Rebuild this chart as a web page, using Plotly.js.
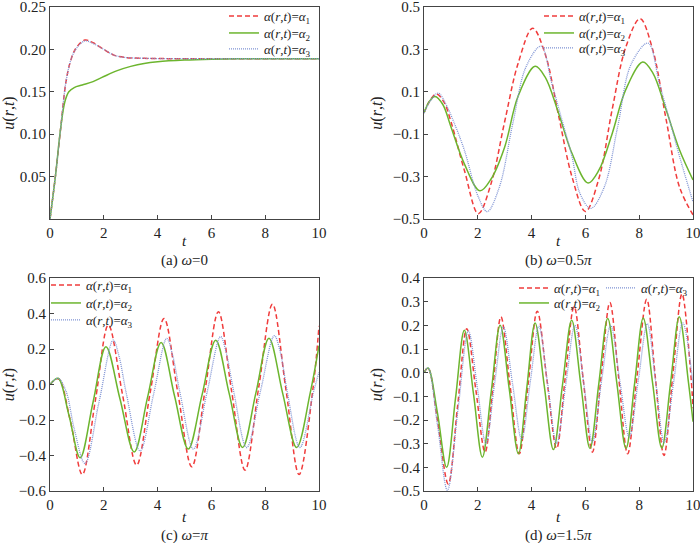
<!DOCTYPE html>
<html>
<head>
<meta charset="utf-8">
<script src="https://cdn.plot.ly/plotly-3.0.1.min.js"></script>
<style>body{margin:0;background:#fff}#myDiv{width:700px;height:543px}</style>
</head>
<body>
<div id="myDiv"></div>
<script>
// (a) omega = 0
var tA1 = [0, 0.2, 0.4, 0.6, 0.8, 1.0, 1.3, 1.6, 2.0, 2.4, 2.8, 3.5, 5, 7, 10];
var uA1 = [0, 0.05, 0.108, 0.163, 0.19, 0.203, 0.211, 0.208, 0.2, 0.193, 0.1905, 0.1895, 0.189, 0.189, 0.189];
var tA2 = [0, 0.2, 0.4, 0.55, 0.7, 0.9, 1.2, 1.6, 2.0, 2.5, 3.0, 3.5, 4.0, 5, 6, 7, 10];
var uA2 = [0, 0.05, 0.108, 0.138, 0.15, 0.155, 0.158, 0.162, 0.168, 0.175, 0.18, 0.1835, 0.1855, 0.1875, 0.1885, 0.189, 0.189];
var tA3 = [0, 0.2, 0.4, 0.6, 0.8, 1.0, 1.3, 1.6, 2.0, 2.4, 2.8, 3.5, 5, 7, 10];
var uA3 = [0, 0.05, 0.108, 0.163, 0.19, 0.202, 0.21, 0.207, 0.2, 0.193, 0.1905, 0.1895, 0.189, 0.189, 0.189];

// (b) omega = 0.5 pi
var tB1 = [0, 0.25, 0.47, 0.75, 1.0, 1.5, 2.02, 2.5, 3.0, 3.5, 4.04, 4.5, 5.0, 5.5, 6.0, 6.5, 7.0, 7.5, 8.03, 8.5, 9.0, 9.5, 10];
var uB1 = [0, 0.065, 0.09, 0.05, -0.04, -0.27, -0.475, -0.33, -0.04, 0.235, 0.40, 0.28, -0.01, -0.30, -0.465, -0.31, 0.02, 0.31, 0.445, 0.30, -0.03, -0.35, -0.48];
var tB2 = [0, 0.2, 0.41, 0.7, 1.0, 1.5, 2.08, 2.5, 3.0, 3.5, 4.13, 4.5, 5.0, 5.5, 6.1, 6.5, 7.0, 7.5, 8.13, 8.5, 9.0, 9.5, 10];
var uB2 = [0, 0.055, 0.078, 0.04, -0.065, -0.24, -0.367, -0.31, -0.16, 0.08, 0.22, 0.17, 0.0, -0.19, -0.33, -0.27, -0.095, 0.11, 0.24, 0.19, 0.015, -0.175, -0.316];
var tB3 = [0, 0.25, 0.53, 0.8, 1.1, 1.5, 2.0, 2.35, 2.8, 3.3, 3.8, 4.35, 4.75, 5.1, 5.5, 5.8, 6.2, 6.7, 7.2, 7.7, 8.33, 8.75, 9.1, 9.5, 10];
var uB3 = [0, 0.06, 0.094, 0.045, -0.04, -0.175, -0.39, -0.465, -0.35, -0.05, 0.22, 0.315, 0.14, -0.02, -0.205, -0.38, -0.45, -0.35, -0.065, 0.23, 0.33, 0.14, -0.02, -0.205, -0.42];

// (c) omega = pi
var tC1 = [0, 0.31, 0.75, 1.2, 1.69, 2.17, 2.7, 3.22, 3.73, 4.24, 4.75, 5.27, 5.77, 6.26, 6.75, 7.25, 7.76, 8.27, 8.77, 9.26, 9.77, 10];
var uC1 = [0, 0.032, -0.2, -0.507, -0.086, 0.335, -0.06, -0.454, -0.04, 0.372, -0.045, -0.464, -0.027, 0.41, -0.036, -0.482, -0.015, 0.452, -0.027, -0.507, -0.03, 0.33];
var tC2 = [0, 0.3, 0.7, 1.12, 1.6, 2.08, 2.6, 3.13, 3.63, 4.13, 4.63, 5.14, 5.65, 6.16, 6.66, 7.16, 7.65, 8.14, 8.65, 9.17, 9.67, 10];
var uC2 = [0, 0.035, -0.17, -0.413, -0.1, 0.213, -0.08, -0.38, -0.07, 0.237, -0.065, -0.364, -0.06, 0.25, -0.05, -0.355, -0.05, 0.26, -0.05, -0.355, -0.05, 0.219];
var tC3 = [0, 0.3, 0.6, 0.9, 1.3, 1.82, 2.35, 2.56, 2.85, 3.35, 3.85, 4.34, 4.55, 4.85, 5.33, 5.83, 6.34, 6.55, 6.83, 7.31, 7.82, 8.34, 8.55, 8.82, 9.29, 9.8, 10];
var uC3 = [0, 0.035, -0.04, -0.25, -0.445, -0.1, 0.25, 0.163, -0.06, -0.374, -0.055, 0.26, 0.17, -0.06, -0.364, -0.05, 0.27, 0.18, -0.04, -0.355, -0.04, 0.275, 0.19, -0.04, -0.355, -0.04, 0.07];

// (d) omega = 1.5 pi
var tD1 = [0, 0.15, 0.5, 0.9, 1.25, 1.59, 1.93, 2.27, 2.57, 2.86, 3.2, 3.54, 3.88, 4.21, 4.57, 4.93, 5.25, 5.58, 5.92, 6.26, 6.58, 6.91, 7.24, 7.57, 7.92, 8.28, 8.6, 8.92, 9.25, 9.59, 9.92, 10];
var uD1 = [0, 0.02, -0.2, -0.47, -0.14, 0.186, -0.075, -0.336, -0.05, 0.236, -0.055, -0.343, -0.04, 0.26, -0.03, -0.32, -0.02, 0.28, -0.03, -0.336, -0.02, 0.296, -0.025, -0.343, -0.015, 0.31, -0.02, -0.35, -0.01, 0.333, -0.01, -0.15];
var tD2 = [0, 0.15, 0.5, 0.84, 1.17, 1.5, 1.84, 2.17, 2.5, 2.83, 3.17, 3.51, 3.82, 4.13, 4.47, 4.81, 5.15, 5.49, 5.83, 6.17, 6.5, 6.83, 7.17, 7.51, 7.83, 8.15, 8.5, 8.84, 9.17, 9.49, 9.83, 10];
var uD2 = [0, 0.02, -0.17, -0.40, -0.11, 0.179, -0.09, -0.357, -0.08, 0.2, -0.07, -0.343, -0.065, 0.21, -0.055, -0.325, -0.05, 0.221, -0.05, -0.32, -0.045, 0.229, -0.045, -0.32, -0.045, 0.231, -0.045, -0.318, -0.04, 0.236, -0.04, -0.207];
var tD3 = [0, 0.15, 0.5, 0.87, 1.26, 1.65, 1.98, 2.3, 2.62, 2.95, 3.29, 3.63, 3.95, 4.27, 4.6, 4.93, 5.27, 5.61, 5.94, 6.26, 6.6, 6.94, 7.28, 7.63, 7.97, 8.3, 8.62, 8.93, 9.28, 9.62, 10];
var uD3 = [0, 0.02, -0.22, -0.497, -0.16, 0.176, -0.06, -0.30, -0.05, 0.193, -0.045, -0.281, -0.04, 0.196, -0.05, -0.30, -0.05, 0.2, -0.045, -0.293, -0.035, 0.2, -0.035, -0.271, -0.03, 0.207, -0.045, -0.296, -0.04, 0.21, -0.05];

var names = [
  '<i>α</i>(<i>r</i>,<i>t</i>)=<i>α</i><sub>1</sub>',
  '<i>α</i>(<i>r</i>,<i>t</i>)=<i>α</i><sub>2</sub>',
  '<i>α</i>(<i>r</i>,<i>t</i>)=<i>α</i><sub>3</sub>'
];
var captions = ['(a) <i>ω</i>=0', '(b) <i>ω</i>=0.5<i>π</i>', '(c) <i>ω</i>=<i>π</i>', '(d) <i>ω</i>=1.5<i>π</i>'];
var styles = [
  {color: '#f03c3c', width: 1.5, dash: '5px,3px'},
  {color: '#6cb52e', width: 1.5, dash: 'solid'},
  {color: '#7f93d4', width: 1.3, dash: '1px,1px'}
];
var FONT = 'Liberation Serif';

// one legend per entry so each row can sit where the reference has it: [left px, row centre px]
var legendAt = [
  [224, 16], [224, 33], [224, 49],
  [539, 16], [539, 33], [539, 48],
  [46, 285], [46, 303], [46, 320],
  [514, 288], [514, 303], [601, 288]
];

var n = 0;
function tr(t, u, k, ax) {
  n += 1;
  return {
    x: t, y: u, mode: 'lines', type: 'scatter', name: names[k],
    line: Object.assign({shape: 'spline', smoothing: 1}, styles[k]),
    xaxis: 'x' + ax, yaxis: 'y' + ax, legend: n === 1 ? 'legend' : 'legend' + n,
    showlegend: true, hoverinfo: 'skip'
  };
}

var data = [
  tr(tA1, uA1, 0, ''), tr(tA2, uA2, 1, ''), tr(tA3, uA3, 2, ''),
  tr(tB1, uB1, 0, '2'), tr(tB2, uB2, 1, '2'), tr(tB3, uB3, 2, '2'),
  tr(tC1, uC1, 0, '3'), tr(tC2, uC2, 1, '3'), tr(tC3, uC3, 2, '3'),
  tr(tD1, uD1, 0, '4'), tr(tD2, uD2, 1, '4'), tr(tD3, uD3, 2, '4')
];

function xax(dom, anchor) {
  return {
    domain: dom, anchor: anchor, range: [0, 10], dtick: 2,
    showline: true, mirror: true, linecolor: '#444', linewidth: 1,
    ticks: 'inside', ticklen: 4, tickcolor: '#444', showgrid: false, zeroline: false,
    ticklabeloverflow: 'allow',
    tickfont: {family: FONT, size: 15, color: '#222'}
  };
}
function yax(dom, anchor, range, vals, fmt) {
  return {
    domain: dom, anchor: anchor, range: range, tickvals: vals, tickformat: fmt,
    showline: true, mirror: true, linecolor: '#444', linewidth: 1,
    ticks: 'inside', ticklen: 4, tickcolor: '#444', showgrid: false, zeroline: false,
    ticklabeloverflow: 'allow',
    tickfont: {family: FONT, size: 15, color: '#222'},
    title: {text: '<i>u</i>(<i>r</i>,<i>t</i>)', standoff: 6, font: {family: FONT, size: 16, color: '#222'}}
  };
}

var xL = [50 / 700, 319 / 700], xR = [424 / 700, 693 / 700];
var yT = [1 - 219 / 543, 1 - 7 / 543], yB = [1 - 491 / 543, 1 - 278 / 543];

// x titles and captions as annotations: [centre x px, t-title y px, caption y px]
var panelText = [[184.5, 241, 260], [558.5, 241, 260], [184.5, 517, 535], [558.5, 517, 535]];
var ann = [];
panelText.forEach(function (p, i) {
  ann.push({text: '<i>t</i>', x: p[0] / 700, y: 1 - p[1] / 543, font: {family: FONT, size: 15, color: '#222'}});
  ann.push({text: captions[i], x: p[0] / 700, y: 1 - p[2] / 543, font: {family: FONT, size: 15, color: '#222'}});
});

var layout = {
  width: 700, height: 543,
  margin: {l: 0, r: 0, t: 0, b: 0},
  paper_bgcolor: '#fff', plot_bgcolor: '#fff',
  font: {family: FONT, color: '#222'},
  showlegend: true,
  xaxis: xax(xL, 'y'), yaxis: yax(yT, 'x', [0, 0.25], [0.05, 0.10, 0.15, 0.20, 0.25], '.2f'),
  xaxis2: xax(xR, 'y2'), yaxis2: yax(yT, 'x2', [-0.5, 0.5], [-0.5, -0.3, -0.1, 0.1, 0.3, 0.5], '.1f'),
  xaxis3: xax(xL, 'y3'), yaxis3: yax(yB, 'x3', [-0.6, 0.6], [-0.6, -0.4, -0.2, 0, 0.2, 0.4, 0.6], '.1f'),
  xaxis4: xax(xR, 'y4'), yaxis4: yax(yB, 'x4', [-0.5, 0.4], [-0.5, -0.4, -0.3, -0.2, -0.1, 0, 0.1, 0.2, 0.3, 0.4], '.1f'),
  annotations: ann.map(function (a) {
    return Object.assign({xref: 'paper', yref: 'paper', xanchor: 'center', yanchor: 'middle', showarrow: false}, a);
  })
};
legendAt.forEach(function (p, i) {
  layout[i === 0 ? 'legend' : 'legend' + (i + 1)] = {
    x: p[0] / 700, y: 1 - p[1] / 543, xanchor: 'left', yanchor: 'middle',
    bgcolor: 'rgba(0,0,0,0)', itemwidth: 30, visible: true,
    font: {family: FONT, size: 13, color: '#222'}
  };
});

Plotly.newPlot('myDiv', data, layout, {displayModeBar: false, staticPlot: true});
</script>
</body>
</html>
